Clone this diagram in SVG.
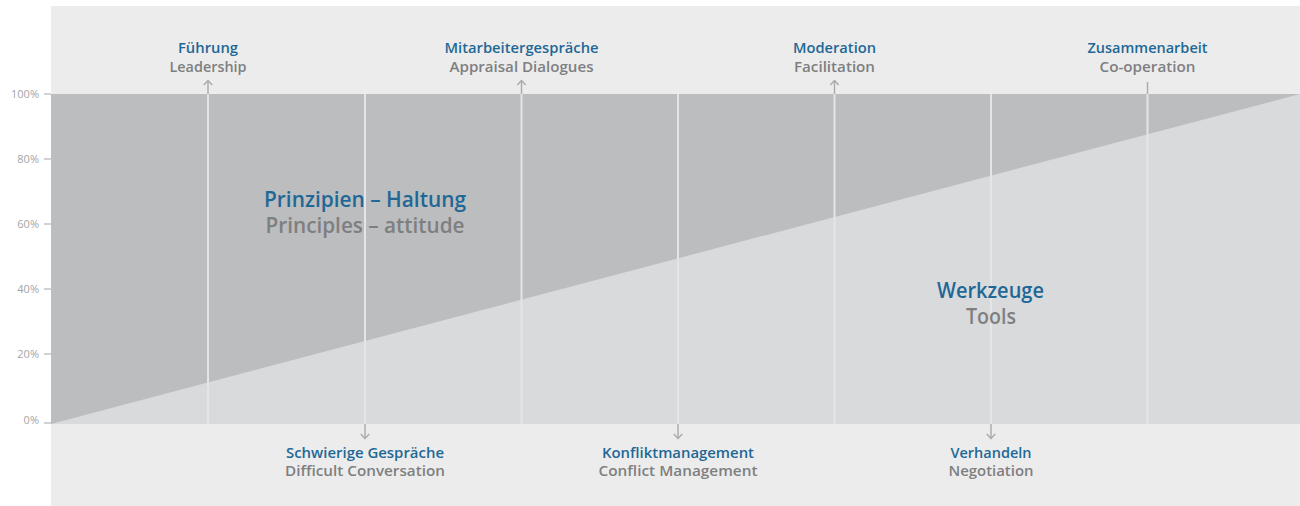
<svg xmlns="http://www.w3.org/2000/svg" width="1300" height="506" viewBox="0 0 1300 506">
<style>
.blue{font-family:"Open Sans","Noto Sans","Liberation Sans",sans-serif;font-weight:600;fill:#1f6896;text-anchor:middle}
.grey{font-family:"Open Sans","Noto Sans","Liberation Sans",sans-serif;font-weight:600;fill:#7e7f81;text-anchor:middle}
.s{font-size:14.5px}
.b{font-size:21px}
.axis{font-family:"Open Sans","Noto Sans","Liberation Sans",sans-serif;font-size:11px;fill:#a4a5a7;text-anchor:end}
.tick{stroke:#b4b5b7;stroke-width:1.2}
.vl{stroke:#e4e5e7;stroke-width:2;fill:none}
.ar{stroke:#a9aaac;stroke-width:1.4;fill:none}
</style>
<defs>
<marker id="chev" markerUnits="userSpaceOnUse" markerWidth="12" markerHeight="12" viewBox="-6 -6 12 12" refX="0" refY="0" orient="auto">
<path d="M-4.5,-4.2 L0,0 L-4.5,4.2" fill="none" stroke="#a9aaac" stroke-width="1.4"/>
</marker>
</defs>
<rect x="51" y="6" width="1249" height="500" fill="#ececec"/>
<g id="chart">
<rect x="51" y="94" width="1249" height="330" fill="#bcbdbf"/>
<polygon points="51,424 1300,94 1300,424" fill="#d9dadc"/>
</g>
<g id="axis">
<line class="tick" x1="44" y1="94" x2="51" y2="94"/>
<line class="tick" x1="44" y1="159" x2="51" y2="159"/>
<line class="tick" x1="44" y1="224" x2="51" y2="224"/>
<line class="tick" x1="44" y1="289" x2="51" y2="289"/>
<line class="tick" x1="44" y1="354" x2="51" y2="354"/>
<line class="tick" x1="44" y1="423" x2="51" y2="423"/>
<text class="axis" x="39" y="98">100%</text>
<text class="axis" x="39" y="163">80%</text>
<text class="axis" x="39" y="228">60%</text>
<text class="axis" x="39" y="293">40%</text>
<text class="axis" x="39" y="358">20%</text>
<text class="axis" x="39" y="424">0%</text>
</g>
<g id="connectors">
<line class="vl" x1="208" y1="94" x2="208" y2="424"/>
<line class="vl" x1="365" y1="94" x2="365" y2="424"/>
<line class="vl" x1="521.5" y1="94" x2="521.5" y2="424"/>
<line class="vl" x1="678" y1="94" x2="678" y2="424"/>
<line class="vl" x1="834.5" y1="94" x2="834.5" y2="424"/>
<line class="vl" x1="991" y1="94" x2="991" y2="424"/>
<line class="vl" x1="1147.5" y1="94" x2="1147.5" y2="424"/>
<line class="ar" x1="208" y1="94" x2="208" y2="80.5" marker-end="url(#chev)"/>
<line class="ar" x1="521.5" y1="94" x2="521.5" y2="80.5" marker-end="url(#chev)"/>
<line class="ar" x1="834.5" y1="94" x2="834.5" y2="80.5" marker-end="url(#chev)"/>
<line class="ar" x1="1147.5" y1="94" x2="1147.5" y2="82"/>
<line class="ar" x1="365" y1="424" x2="365" y2="438.5" marker-end="url(#chev)"/>
<line class="ar" x1="678" y1="424" x2="678" y2="438.5" marker-end="url(#chev)"/>
<line class="ar" x1="991" y1="424" x2="991" y2="438.5" marker-end="url(#chev)"/>
</g>
<g id="fuehrung">
<text class="blue s" x="208" y="53" textLength="60" lengthAdjust="spacingAndGlyphs">Führung</text>
<text class="grey s" x="208" y="71.5" textLength="77" lengthAdjust="spacingAndGlyphs">Leadership</text>
</g>
<g id="mitarbeitergespraeche">
<text class="blue s" x="521.5" y="53" textLength="154" lengthAdjust="spacingAndGlyphs">Mitarbeitergespräche</text>
<text class="grey s" x="521.5" y="71.5" textLength="144" lengthAdjust="spacingAndGlyphs">Appraisal Dialogues</text>
</g>
<g id="moderation">
<text class="blue s" x="834.5" y="53" textLength="83" lengthAdjust="spacingAndGlyphs">Moderation</text>
<text class="grey s" x="834.5" y="71.5" textLength="81" lengthAdjust="spacingAndGlyphs">Facilitation</text>
</g>
<g id="zusammenarbeit">
<text class="blue s" x="1147.5" y="53" textLength="120" lengthAdjust="spacingAndGlyphs">Zusammenarbeit</text>
<text class="grey s" x="1147.5" y="71.5" textLength="96" lengthAdjust="spacingAndGlyphs">Co-operation</text>
</g>
<g id="schwierige-gespraeche">
<text class="blue s" x="365" y="458" textLength="158" lengthAdjust="spacingAndGlyphs">Schwierige Gespräche</text>
<text class="grey s" x="365" y="476" textLength="160" lengthAdjust="spacingAndGlyphs">Difficult Conversation</text>
</g>
<g id="konfliktmanagement">
<text class="blue s" x="678" y="458" textLength="152" lengthAdjust="spacingAndGlyphs">Konfliktmanagement</text>
<text class="grey s" x="678" y="476" textLength="159" lengthAdjust="spacingAndGlyphs">Conflict Management</text>
</g>
<g id="verhandeln">
<text class="blue s" x="991" y="458" textLength="81" lengthAdjust="spacingAndGlyphs">Verhandeln</text>
<text class="grey s" x="991" y="476" textLength="85" lengthAdjust="spacingAndGlyphs">Negotiation</text>
</g>
<g id="prinzipien">
<text class="blue b" x="365" y="207" textLength="202" lengthAdjust="spacingAndGlyphs">Prinzipien – Haltung</text>
<text class="grey b" x="365" y="233" textLength="199" lengthAdjust="spacingAndGlyphs">Principles – attitude</text>
</g>
<g id="werkzeuge">
<text class="blue b" x="990.5" y="298" textLength="107" lengthAdjust="spacingAndGlyphs">Werkzeuge</text>
<text class="grey b" x="991" y="324" textLength="50" lengthAdjust="spacingAndGlyphs">Tools</text>
</g>
</svg>
